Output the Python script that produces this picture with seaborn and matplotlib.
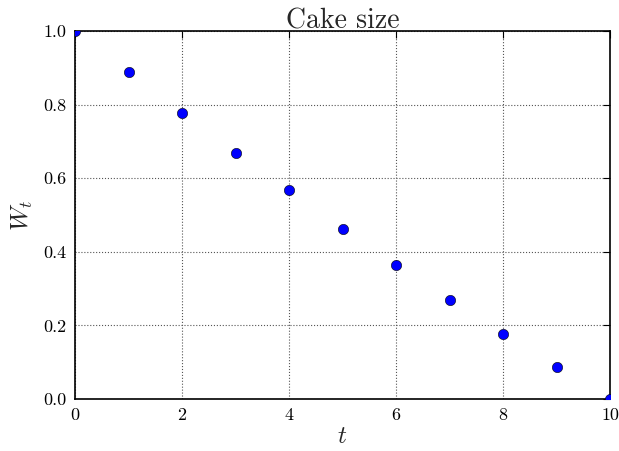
import matplotlib
matplotlib.use("Agg")
import matplotlib.pyplot as plt
import seaborn as sns
import pandas as pd

t_values = [0, 1, 2, 3, 4, 5, 6, 7, 8, 9, 10]
w_values = [1.0, 0.888, 0.776, 0.668, 0.567, 0.462, 0.365, 0.269, 0.177, 0.087, 0.0]
x_ticks = [0, 2, 4, 6, 8, 10]
y_ticks = [0.0, 0.2, 0.4, 0.6, 0.8, 1.0]

sns.set_style("white")
plt.rcParams['font.family'] = ['cmr10', 'DejaVu Serif']
plt.rcParams['mathtext.fontset'] = 'cm'
plt.rcParams['axes.formatter.use_mathtext'] = True

df = pd.DataFrame({"t": t_values, "W": w_values})

fig = plt.figure(figsize=(6.19, 4.51), dpi=100)
ax = fig.add_axes([0.1212, 0.1153, 0.8643, 0.816])
sns.scatterplot(data=df, x="t", y="W", ax=ax, color="#0000ff", edgecolor="black",
                linewidth=0.4, s=55, zorder=3)
ax.set_xlim(0, 10)
ax.set_ylim(0, 1)
ax.set_xticks(x_ticks)
ax.set_yticks(y_ticks)
ax.set_xticklabels([str(v) for v in x_ticks])
ax.set_yticklabels([f"{v:.1f}" for v in y_ticks])
ax.grid(True, color="#555555", linestyle=":", linewidth=0.8)
ax.set_axisbelow(True)
ax.tick_params(direction="in", top=True, right=True, length=5, width=0.8,
               labelsize=13, colors="black", pad=6)
for sp in ax.spines.values():
    sp.set_color("black")
    sp.set_linewidth(1.2)
ax.set_title("Cake size", fontsize=20, pad=2)
ax.set_xlabel("$t$", fontsize=18, labelpad=2)
ax.set_ylabel("$W_t$", fontsize=18, labelpad=6)

fig.savefig("out.png", dpi=100)
